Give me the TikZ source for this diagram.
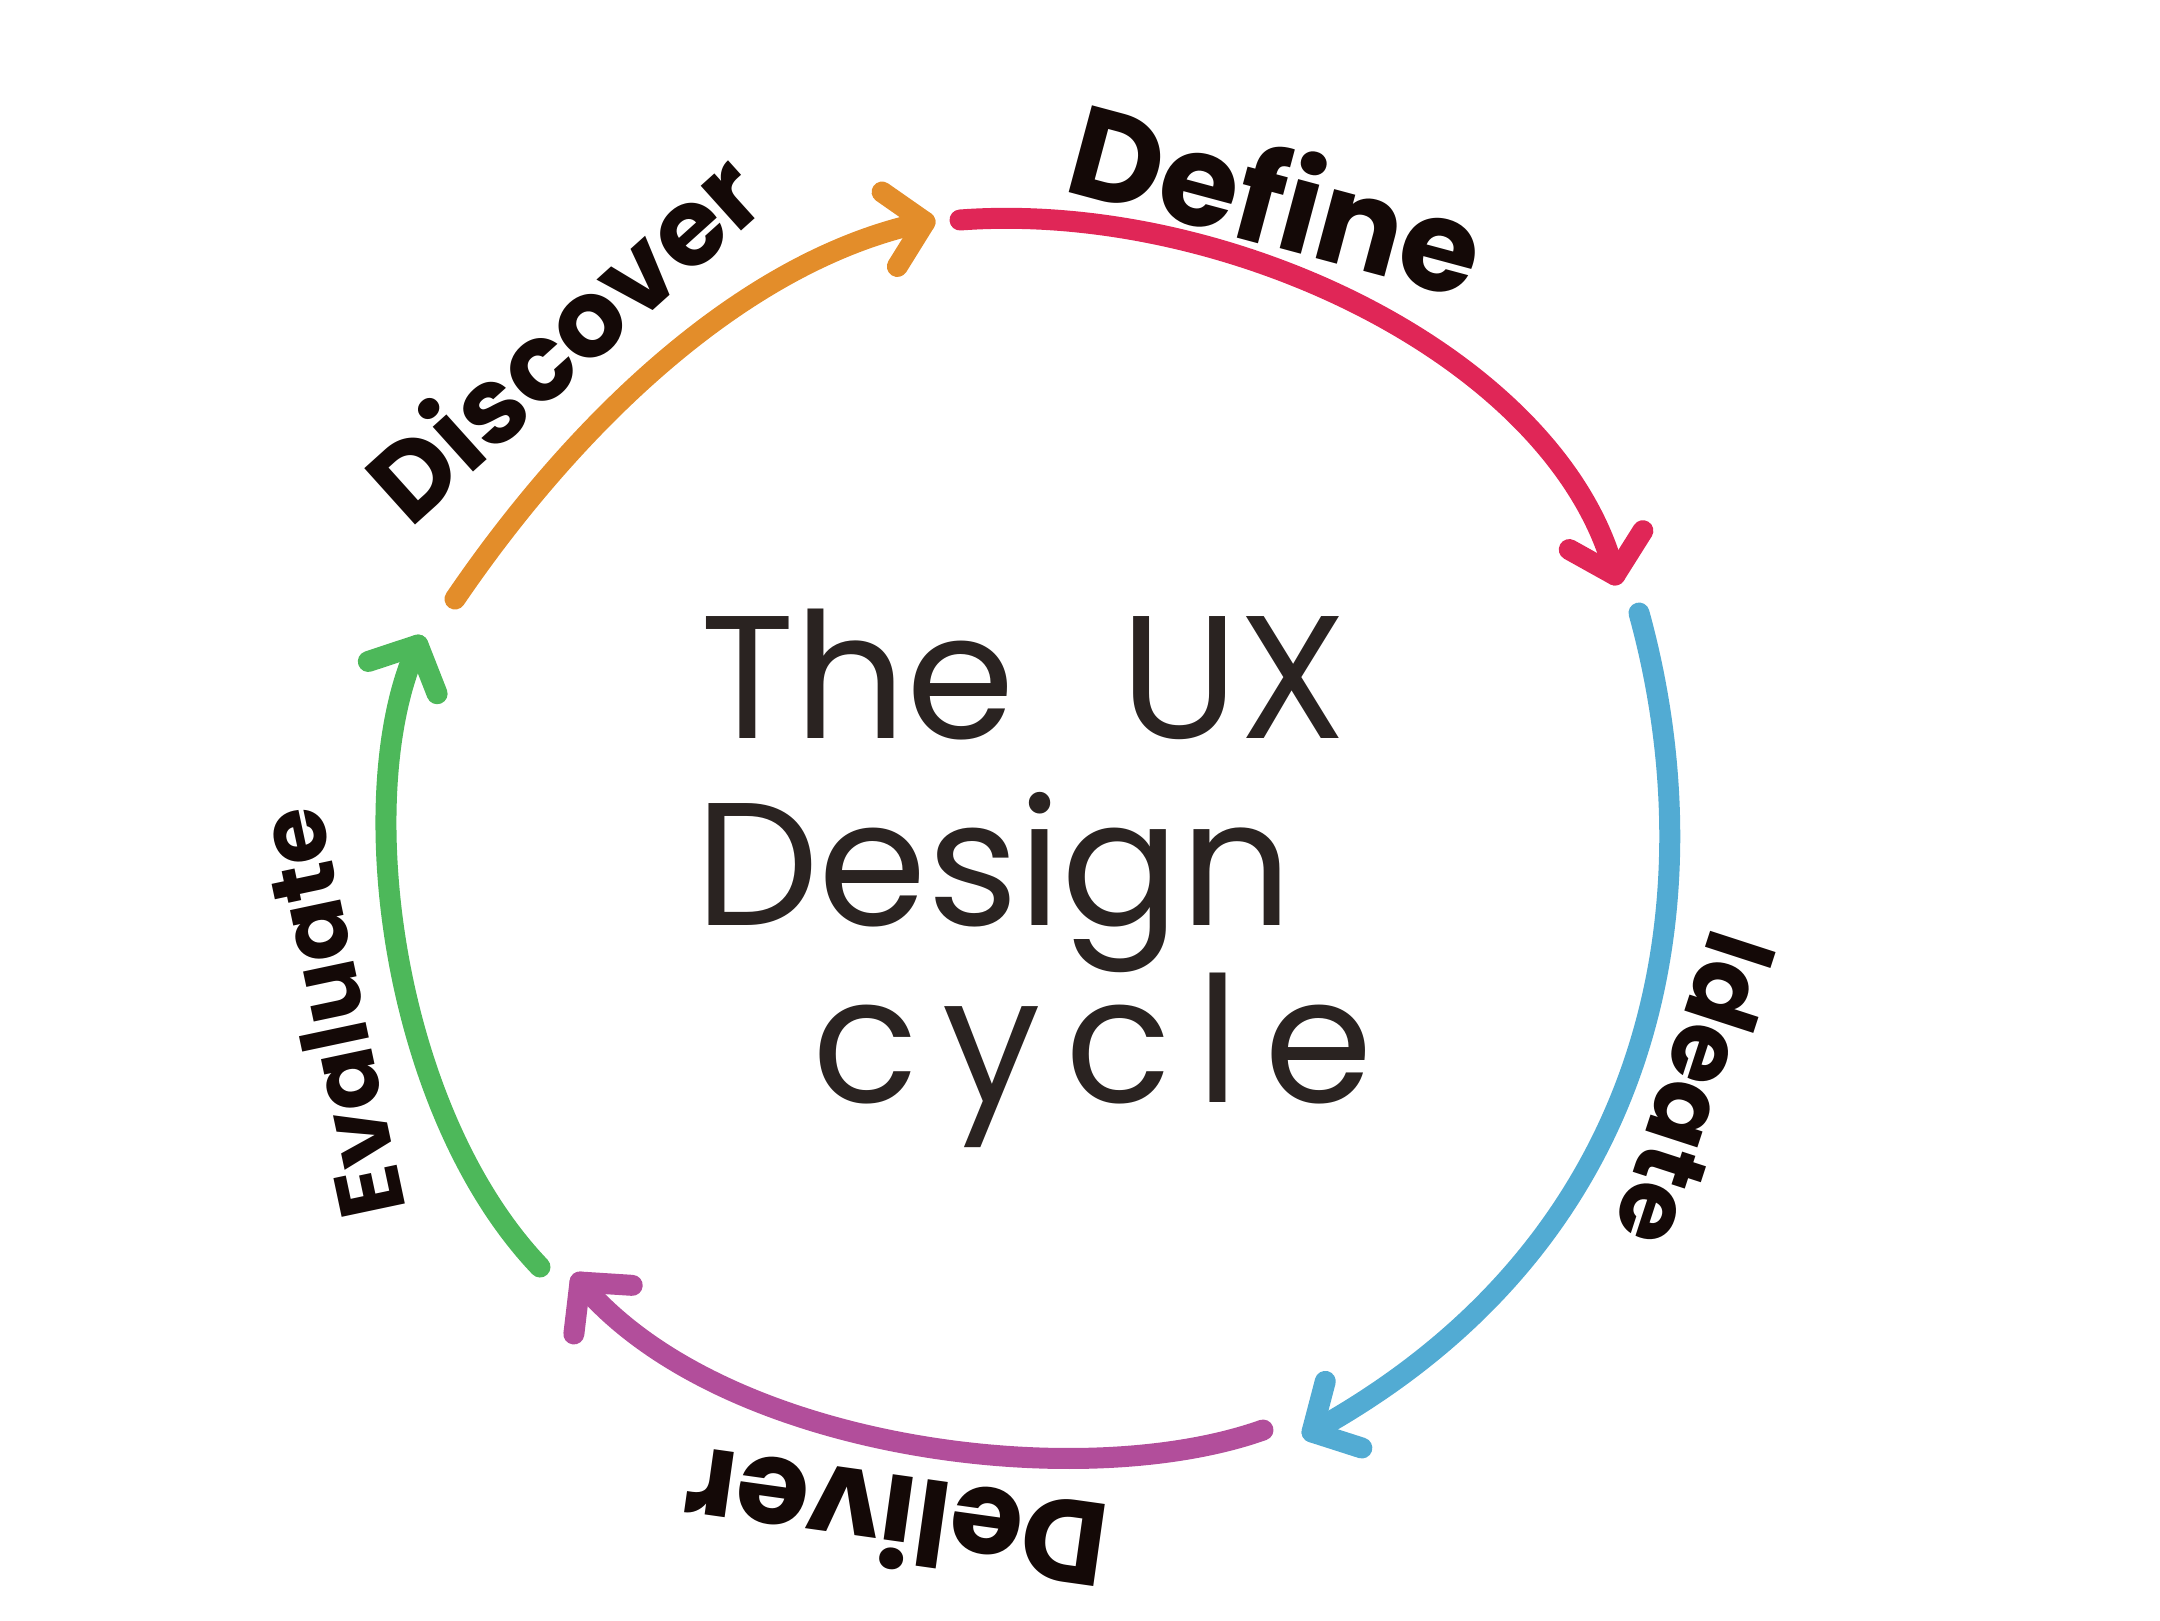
\documentclass[tikz,border=0pt]{standalone}
\usepackage{fontspec}
\setmainfont{Poppins}
\usetikzlibrary{decorations.markings}
\definecolor{cOrange}{HTML}{E38D2A}
\definecolor{cRed}{HTML}{E02657}
\definecolor{cBlue}{HTML}{52ABD3}
\definecolor{cPurple}{HTML}{B24E9B}
\definecolor{cGreen}{HTML}{4DB85A}
\definecolor{inkc}{HTML}{140907}
\definecolor{penc}{HTML}{2A2321}
\begin{document}
\begin{tikzpicture}[x=1pt,y=-1pt,
  flow/.style={line width=21pt, line cap=round, line join=round,
    postaction={decorate, decoration={markings,
      mark=at position 1 with {\draw[line width=21pt, line cap=round, line join=round]
        (-36pt,-38pt) -- (0pt,0pt) -- (-36pt,38pt);}}}},
  lab/.style={font=\bfseries\fontsize{#1}{#1}\selectfont, text=inkc, inner sep=0pt},
  title/.style={font=\fontsize{175}{175}\selectfont, text=penc, inner sep=0pt, anchor=base west}]
\useasboundingbox (0,0) rectangle (2160,1620);

% stage end points
\coordinate (o1) at (455,599);
\coordinate (o2) at (925,222);
\coordinate (r1) at (960,220);
\coordinate (r2) at (1615,575);
\coordinate (b1) at (1639,613);
\coordinate (b2) at (1312,1432);
\coordinate (p1) at (1263,1430);
\coordinate (p2) at (580,1282);
\coordinate (g1) at (540,1267);
\coordinate (g2) at (418,645);

% arrows of the cycle
\draw[flow, cOrange] (o1) .. controls (570,430) and (740,260) .. (o2);
\draw[flow, cRed] (r1) .. controls (1230,200) and (1560,360) .. (r2);
\draw[flow, cBlue] (b1) .. controls (1710,870) and (1680,1230) .. (b2);
\draw[flow, cPurple] (p1) .. controls (1080,1495) and (720,1450) .. (p2);
\draw[flow, cGreen] (g1) .. controls (390,1110) and (350,790) .. (g2);

% stage labels
\node[lab=108, rotate=42] (discover) at (562,335) {Discover};
\node[lab=128, rotate=-15] (define) at (1278,196) {Define};
\node[lab=98, rotate=-108] (ideate) at (1697,1090) {Ideate};
\node[lab=118, rotate=172] (deliver) at (895,1522) {Deliver};
\node[lab=92, rotate=102] (evaluate) at (330,1013) {Evaluate};

% centre title
\node[title] (t1) at (700,738) {The\hspace{0.6em}UX};
\node[title] (t2) at (695,925) {Design};
\node[title] (t3) at (812,1102) {\addfontfeatures{LetterSpace=14}cycle};
\end{tikzpicture}
\end{document}
